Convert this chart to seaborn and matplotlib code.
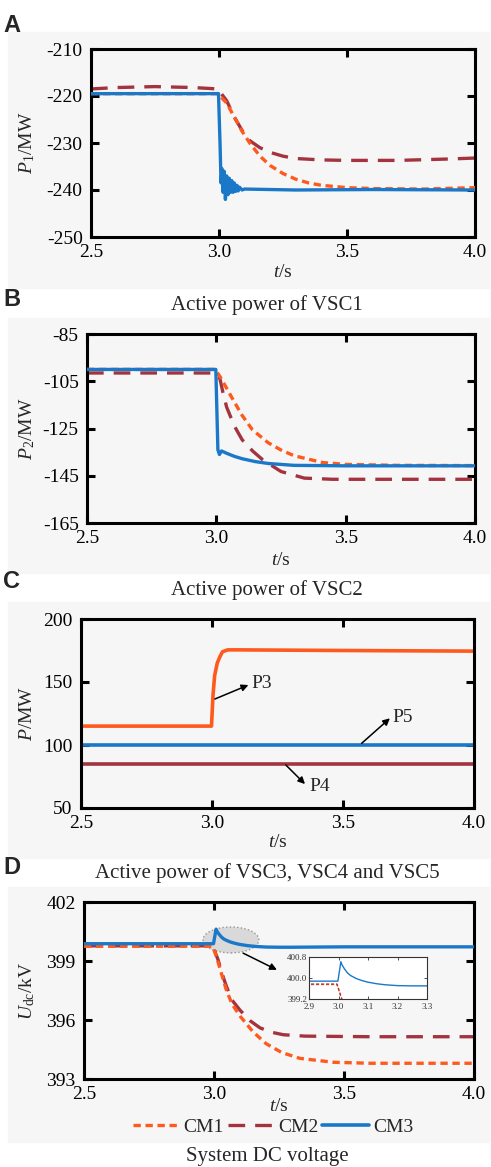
import matplotlib
matplotlib.use("Agg")
import matplotlib.pyplot as plt
from matplotlib.patches import Ellipse, Rectangle
from matplotlib.lines import Line2D
import seaborn as sns

# ---- panel A: active power of VSC1 (MW) ----
t_a_cm1 = [2.5, 2.8, 2.995, 3.03, 3.055, 3.09, 3.12, 3.16, 3.2, 3.25, 3.3, 3.35, 3.4, 3.5, 3.6, 3.8, 4.0]
p1_cm1 = [-219.5, -219.5, -219.5, -221.5, -224.0, -227.5, -230.0, -232.8, -234.8, -236.5, -237.7, -238.5,
          -239.0, -239.5, -239.7, -239.8, -239.5]
t_a_cm2 = [2.5, 2.6, 2.75, 2.9, 2.995, 3.03, 3.06, 3.09, 3.12, 3.16, 3.2, 3.25, 3.3, 3.4, 3.5, 3.7, 3.9, 4.0]
p1_cm2 = [-218.5, -218.2, -218.0, -218.2, -218.5, -221.0, -224.5, -227.3, -229.5, -231.0, -232.0, -232.8,
          -233.3, -233.6, -233.7, -233.7, -233.4, -233.2]
t_a_cm3 = [2.5, 2.7, 2.9, 2.998, 3.004, 3.008, 3.012, 3.016, 3.02, 3.025, 3.03, 3.035, 3.04, 3.045, 3.05,
           3.055, 3.06, 3.065, 3.07, 3.075, 3.08, 3.09, 3.1, 3.3, 3.6, 4.0]
p1_cm3 = [-219.5, -219.5, -219.5, -219.5, -230.0, -238.5, -235.5, -240.5, -236.0, -242.0, -237.0, -241.0,
          -237.5, -240.5, -238.0, -240.5, -238.5, -240.3, -239.0, -240.2, -239.4, -240.0, -239.8, -240.0,
          -239.9, -240.0]

# ---- panel B: active power of VSC2 (MW) ----
t_b_cm1 = [2.5, 2.8, 2.995, 3.014, 3.04, 3.065, 3.1, 3.14, 3.2, 3.25, 3.3, 3.41, 3.5, 3.7, 4.0]
p2_cm1 = [-100, -100, -100, -103, -108, -112.9, -119.5, -125.6, -131, -134.1, -136.5, -139.4, -140.2, -140.6, -140.7]
t_b_cm2 = [2.5, 2.8, 2.995, 3.014, 3.026, 3.04, 3.07, 3.1, 3.14, 3.18, 3.25, 3.34, 3.45, 3.7, 4.0]
p2_cm2 = [-101.5, -101.5, -101.5, -104, -110, -116, -124, -129.8, -134.5, -138.3, -143.2, -146, -146.5, -146.5, -146.5]
t_b_cm3 = [2.5, 2.8, 2.998, 3.006, 3.012, 3.02, 3.04, 3.07, 3.1, 3.15, 3.2, 3.3, 3.5, 4.0]
p2_cm3 = [-100, -100, -100, -134, -136, -134.5, -135.5, -136.8, -137.8, -139, -139.8, -140.6, -140.8, -140.8]

# ---- panel C: active power of VSC3, VSC4, VSC5 (MW) ----
t_c_p3 = [2.5, 2.8, 2.998, 3.004, 3.01, 3.02, 3.03, 3.04, 3.06, 3.1, 3.5, 4.0]
p3 = [115, 115, 115, 140, 155, 165, 170, 174, 175.5, 175.5, 175, 174.5]
t_c_flat = [2.5, 3.0, 3.5, 4.0]
p4 = [85, 85, 85, 85]
p5 = [100, 100, 100, 100]

# ---- panel D: system DC voltage (kV) ----
t_d_cm1 = [2.5, 2.8, 2.995, 3.01, 3.03, 3.048, 3.07, 3.1, 3.15, 3.2, 3.26, 3.33, 3.46, 3.6, 4.0]
u_cm1 = [399.75, 399.75, 399.75, 399.2, 398.3, 397.5, 396.8, 396.2, 395.4, 394.8, 394.35, 394.05, 393.85, 393.8, 393.8]
t_d_cm2 = [2.5, 2.8, 2.995, 3.016, 3.03, 3.048, 3.07, 3.1, 3.14, 3.177, 3.22, 3.267, 3.35, 3.6, 4.0]
u_cm2 = [399.77, 399.77, 399.77, 399.05, 398.4, 397.7, 397.0, 396.5, 395.95, 395.6, 395.38, 395.25, 395.18, 395.15, 395.15]
t_d_cm3 = [2.5, 2.9, 2.998, 3.008, 3.012, 3.02, 3.03, 3.04, 3.06, 3.08, 3.1, 3.13, 3.16, 3.2, 3.25, 3.3, 3.5, 4.0]
u_cm3 = [399.88, 399.88, 399.88, 400.62, 400.5, 400.35, 400.2, 400.1, 399.98, 399.9, 399.84, 399.78, 399.74,
         399.71, 399.7, 399.7, 399.72, 399.72]

labels = ["CM1", "CM2", "CM3"]
captions = ["Active power of VSC1", "Active power of VSC2",
            "Active power of VSC3, VSC4 and VSC5", "System DC voltage"]
ylabels = [r"$P_1$/MW", r"$P_2$/MW", r"$P$/MW", r"$U_{\mathrm{dc}}$/kV"]

c_orange = "#ff5a1e"
c_red = "#a3343f"
c_blue = "#1b78c8"
dash_short = (2.2, 1.4)
dash_long = (5, 3)

sns.set_theme(style="ticks")
plt.rcParams["font.family"] = ["Liberation Serif", "DejaVu Serif"]
plt.rcParams["mathtext.fontset"] = "custom"
plt.rcParams["mathtext.rm"] = "Liberation Serif"
plt.rcParams["mathtext.it"] = "Liberation Serif:italic"
plt.rcParams["axes.unicode_minus"] = False

W, H = 491, 1167
fig = plt.figure(figsize=(W / 100, H / 100), dpi=100)


def px_box(l, r, t, b):
    return [l / W, 1 - b / H, (r - l) / W, (b - t) / H]


# light grey panel backgrounds
for y0, y1 in [(32, 288), (318, 573), (602, 858), (887, 1142)]:
    fig.patches.append(Rectangle((8 / W, 1 - y1 / H), 481 / W, (y1 - y0) / H,
                                 transform=fig.transFigure, color="#f6f6f6", zorder=-10))

ax_a = fig.add_axes(px_box(91, 475, 49, 237))
ax_b = fig.add_axes(px_box(87, 475, 334, 523))
ax_c = fig.add_axes(px_box(81, 474, 619, 808))
ax_d = fig.add_axes(px_box(84, 474, 902, 1079))
axes = [ax_a, ax_b, ax_c, ax_d]


def three_lines(ax, ta, ya, tb, yb, tc, yc, lw=2.4):
    sns.lineplot(x=ta, y=ya, ax=ax, color=c_orange, linewidth=lw, zorder=3)
    ax.lines[-1].set_dashes(dash_short)
    sns.lineplot(x=tb, y=yb, ax=ax, color=c_red, linewidth=lw, zorder=2)
    ax.lines[-1].set_dashes(dash_long)
    sns.lineplot(x=tc, y=yc, ax=ax, color=c_blue, linewidth=lw, zorder=4)


three_lines(ax_a, t_a_cm1, p1_cm1, t_a_cm2, p1_cm2, t_a_cm3, p1_cm3)
three_lines(ax_b, t_b_cm1, p2_cm1, t_b_cm2, p2_cm2, t_b_cm3, p2_cm3)
three_lines(ax_d, t_d_cm1, u_cm1, t_d_cm2, u_cm2, t_d_cm3, u_cm3)

sns.lineplot(x=t_c_p3, y=p3, ax=ax_c, color=c_orange, linewidth=2.6)
sns.lineplot(x=t_c_flat, y=p5, ax=ax_c, color=c_blue, linewidth=2.6)
sns.lineplot(x=t_c_flat, y=p4, ax=ax_c, color=c_red, linewidth=2.6)

ax_a.set_ylim(-250, -210)
ax_a.set_yticks([-210, -220, -230, -240, -250])
ax_b.set_ylim(-165, -85)
ax_b.set_yticks([-85, -105, -125, -145, -165])
ax_c.set_ylim(50, 200)
ax_c.set_yticks([50, 100, 150, 200])
ax_d.set_ylim(393, 402)
ax_d.set_yticks([393, 396, 399, 402])

ylab_x = [-0.167, -0.155, -0.137, -0.146]
xlab_y = [-0.19, -0.196, -0.185, -0.158]
for ax, yl, lx, ly in zip(axes, ylabels, ylab_x, xlab_y):
    ax.set_facecolor("none")
    ax.set_xlim(2.5, 4.0)
    ax.set_xticks([2.5, 3.0, 3.5, 4.0])
    ax.set_xticklabels(["2.5", "3.0", "3.5", "4.0"])
    for s in ax.spines.values():
        s.set_visible(True)
        s.set_linewidth(2.2)
        s.set_color("black")
    ax.tick_params(direction="in", length=6, width=2.2, top=True, right=True,
                   labelsize=14, colors="black", pad=5)
    ax.tick_params(axis="y", pad=6)
    ax.set_ylabel(yl, fontsize=14, va="center")
    ax.yaxis.set_label_coords(lx, 0.5)
    ax.set_xlabel(r"$t$/s", fontsize=14, va="center")
    ax.xaxis.set_label_coords(0.5, ly)

# annotations in panel C
arrow = dict(arrowstyle="-|>", color="black", lw=1.1, mutation_scale=10, shrinkA=0, shrinkB=0)
for name, tail, head, pos in [("P3", (3.011, 136.5), (3.139, 147.6), (3.15, 149)),
                              ("P5", (3.571, 101.3), (3.679, 121.2), (3.69, 122)),
                              ("P4", (3.282, 84.1), (3.355, 69.0), (3.372, 66.9))]:
    ax_c.annotate("", xy=head, xytext=tail, arrowprops=arrow)
    ax_c.text(pos[0], pos[1], name, fontsize=14, ha="left", va="center")

# highlighted zone + arrow in panel D
ax_d.add_patch(Ellipse((3.065, 400.07), 0.215, 1.32, facecolor="#d4d4d4", edgecolor="#888888",
                       linestyle=":", linewidth=1.0, alpha=0.85, zorder=1))
ax_d.annotate("", xy=(3.242, 398.55), xytext=(3.112, 399.4), arrowprops=arrow)

# inset zoom
ax_in = fig.add_axes(px_box(309, 427, 957, 999))
sns.lineplot(x=t_d_cm1, y=u_cm1, ax=ax_in, color=c_orange, linewidth=0.9)
ax_in.lines[-1].set_dashes((2.5, 1.5))
sns.lineplot(x=t_d_cm2, y=u_cm2, ax=ax_in, color=c_red, linewidth=0.9)
ax_in.lines[-1].set_dashes((2.5, 1.5))
sns.lineplot(x=t_d_cm3, y=u_cm3, ax=ax_in, color=c_blue, linewidth=1.0)
ax_in.set_xlim(2.9, 3.3)
ax_in.set_ylim(399.2, 400.8)
ax_in.set_xticks([2.9, 3.0, 3.1, 3.2, 3.3])
ax_in.set_yticks([399.2, 400.0, 400.8])
ax_in.set_yticklabels(["399.2", "400.0", "400.8"])
ax_in.set_xlabel("")
ax_in.set_ylabel("")
ax_in.set_facecolor("white")
for s in ax_in.spines.values():
    s.set_visible(True)
    s.set_linewidth(0.8)
    s.set_color("#333333")
ax_in.tick_params(direction="in", length=2, width=0.6, top=True, right=True,
                  labelsize=6.5, pad=1.5, colors="#333333")
ax_in.tick_params(axis="x", pad=3)

# legend under panel D
handles = [Line2D([], [], color=c_orange, lw=2.4, dashes=dash_short),
           Line2D([], [], color=c_red, lw=2.4, dashes=dash_long),
           Line2D([], [], color=c_blue, lw=2.6)]
fig.legend(handles, labels, loc="center", bbox_to_anchor=(273 / W, 1 - 1127 / H), ncol=3,
           frameon=False, fontsize=14, handlelength=2.4, handletextpad=0.2, columnspacing=0.2)

# panel letters and captions
for letter, yc in zip("ABCD", [25, 300, 581, 868]):
    fig.text(3 / W, 1 - yc / H, letter, family=["Liberation Sans", "DejaVu Sans"],
             fontweight="bold", fontsize=17, ha="left", va="center")
for cap, yc in zip(captions, [305, 590, 873, 1157]):
    fig.text(267 / W, 1 - yc / H, cap, fontsize=15, ha="center", va="center")

fig.savefig("out.png", dpi=100)
